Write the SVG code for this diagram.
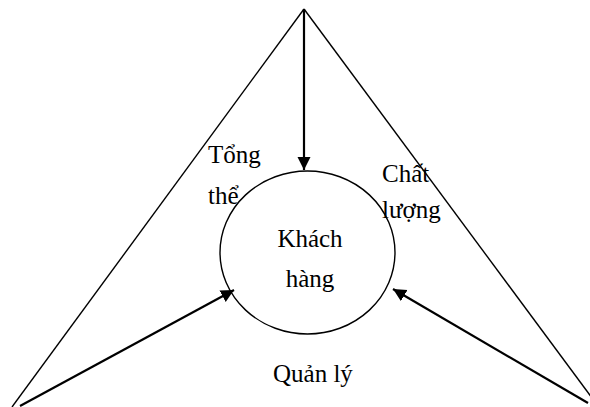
<svg xmlns="http://www.w3.org/2000/svg" width="590" height="407" viewBox="0 0 590 407">
<defs>
<style>
.t{font-family:"Liberation Serif","Times New Roman",serif;font-size:25px;fill:#000}
.ln{stroke:#000;stroke-width:1.4;fill:none}
.ar{stroke:#000;stroke-width:2.2;fill:none}
</style>
<marker id="ah" markerUnits="userSpaceOnUse" markerWidth="14" markerHeight="14" viewBox="0 0 14 14" refX="13" refY="7" orient="auto">
<path d="M0,0.5 L13,7 L0,13.5 Z" fill="#000"/>
</marker>
</defs>
<rect width="590" height="407" fill="#fff"/>
<g id="triangle">
<line class="ln" x1="304" y1="9" x2="12" y2="407"/>
<line class="ln" x1="304" y1="9" x2="592" y2="398"/>
</g>
<g id="connectors">
<line class="ar" x1="304" y1="9" x2="304" y2="170" marker-end="url(#ah)"/>
<line class="ar" x1="20" y1="406" x2="234" y2="290" marker-end="url(#ah)"/>
<line class="ar" x1="588" y1="403" x2="393" y2="289" marker-end="url(#ah)"/>
</g>
<g id="khach-hang">
<ellipse class="ln" cx="307.5" cy="252.5" rx="87.5" ry="81.5"/>
<text class="t" x="310" y="247" text-anchor="middle">Khách</text>
<text class="t" x="310" y="287" text-anchor="middle">hàng</text>
</g>
<g id="tong-the">
<text class="t" x="208" y="163">Tổng</text>
<text class="t" x="208" y="204">thể</text>
</g>
<g id="chat-luong">
<text class="t" x="382" y="182">Chất</text>
<text class="t" x="382" y="218">lượng</text>
</g>
<g id="quan-ly">
<text class="t" x="273" y="382">Quản lý</text>
</g>
</svg>
